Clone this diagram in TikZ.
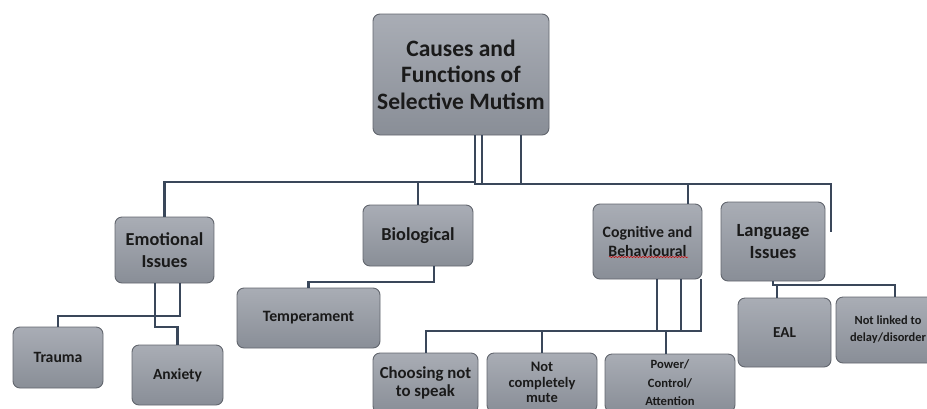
\documentclass[tikz,border=0pt]{standalone}
\usepackage{fontspec}
\setmainfont{Carlito}
\usetikzlibrary{decorations.pathmorphing}
\definecolor{lineC}{HTML}{3A475A}
\definecolor{boxB}{HTML}{62666E}
\definecolor{boxT}{HTML}{A9ADB5}
\definecolor{boxD}{HTML}{898E97}
\definecolor{txt}{HTML}{1A1A1A}
\begin{document}
\begin{tikzpicture}[x=1pt,y=-1pt,
  box/.style={draw=boxB, line width=0.9pt, rounded corners=7pt, top color=boxT, bottom color=boxD,
    align=center, inner sep=0pt, text=txt},
  conn/.style={draw=lineC, line width=2.4pt}]
\useasboundingbox (0,0) rectangle (927,408);
\clip (0,0) rectangle (927,408);

\coordinate (hl) at (475,182);
\coordinate (hr) at (482,184);

% nodes
\node[box, minimum width=176pt, minimum height=121pt, font=\fontsize{23.5}{26.5}\selectfont\bfseries] (top) at (461,74.5) {Causes and\\Functions of\\Selective Mutism};
\node[box, minimum width=99pt, minimum height=66pt, font=\fontsize{18.3}{22}\selectfont\bfseries] (emo) at (164.5,250) {Emotional\\Issues};
\node[box, minimum width=110pt, minimum height=61pt, font=\fontsize{18.3}{22}\selectfont\bfseries] (bio) at (418,235.5) {Biological};
\node[box, minimum width=109pt, minimum height=75pt, font=\fontsize{15.8}{19}\selectfont\bfseries] (cog) at (647.5,241.5) {Cognitive and\\Behavioural};
\node[box, minimum width=104pt, minimum height=79pt, font=\fontsize{18.6}{22}\selectfont\bfseries] (lang) at (773,241.5) {Language\\Issues};
\node[box, minimum width=90pt, minimum height=61pt, font=\fontsize{15.7}{19}\selectfont\bfseries] (trauma) at (58,357.5) {Trauma};
\node[box, minimum width=91pt, minimum height=60pt, font=\fontsize{15.5}{19}\selectfont\bfseries] (anx) at (177.5,375) {Anxiety};
\node[box, minimum width=143pt, minimum height=60pt, font=\fontsize{15.8}{19}\selectfont\bfseries] (temp) at (308.5,318) {Temperament};
\node[box, minimum width=105pt, minimum height=60pt, font=\fontsize{16.8}{18}\selectfont\bfseries] (choose) at (425.5,383) {Choosing not\\to speak};
\node[box, minimum width=110pt, minimum height=59pt, font=\fontsize{14.5}{15.5}\selectfont\bfseries] (notmute) at (542,382.5) {Not\\completely\\mute};
\node[box, minimum width=130pt, minimum height=58pt, font=\fontsize{12.6}{18.5}\selectfont\bfseries] (power) at (670,383) {Power/\\Control/\\Attention};
\node[box, minimum width=93pt, minimum height=69pt, font=\fontsize{15.2}{18}\selectfont\bfseries] (eal) at (784.5,332.5) {EAL};
\node[box, minimum width=104pt, minimum height=66pt, font=\fontsize{12.4}{17}\selectfont\bfseries] (nl) at (888,330) {Not linked to\\delay/disorder};

% spell-check underline
\coordinate (sq1) at (609,257);
\coordinate (sq2) at (688,257);
\draw[red!80!black, line width=0.5pt, decorate, decoration={snake, amplitude=0.6pt, segment length=3pt}] (sq1) -- (sq2);

% top connectors
\draw[conn] (top.south -| hl) -- (hl) -| (emo.north);
\draw[conn] (bio.north) -- (bio.north |- hl);
\draw[conn] (top.south -| hr) -- (hr) -- (831,184) -- (831,232);
\draw[conn] (474,184) -- (hr);
\draw[conn] (top.south -| 521,0) -- (521,184);
\draw[conn] (cog.north -| 688,0) -- (688,184);

% emotional
\draw[conn] (emo.south -| 180,0) -- (180,316) -| (trauma.north);
\draw[conn] (emo.south -| 155,0) -- (155,327) -| (anx.north);

% biological
\draw[conn] (bio.south -| 434,0) -- (434,282) -| (temp.north);

% cognitive
\draw[conn] (cog.south -| 657,0) -- (657,331) -| (choose.north -| 426,0);
\draw[conn] (cog.south -| 681,0) -- (681,331);
\draw[conn] (cog.south -| 701,0) -- (701,331) -- (657,331);
\draw[conn] (notmute.north) -- (notmute.north |- 0,331);
\draw[conn] (power.north -| 666,0) -- (666,331);

% language
\draw[conn] (lang.south) -- (773,285) -| (nl.north -| 895,0);
\draw[conn] (eal.north -| 777,0) -- (777,285);
\end{tikzpicture}
\end{document}
